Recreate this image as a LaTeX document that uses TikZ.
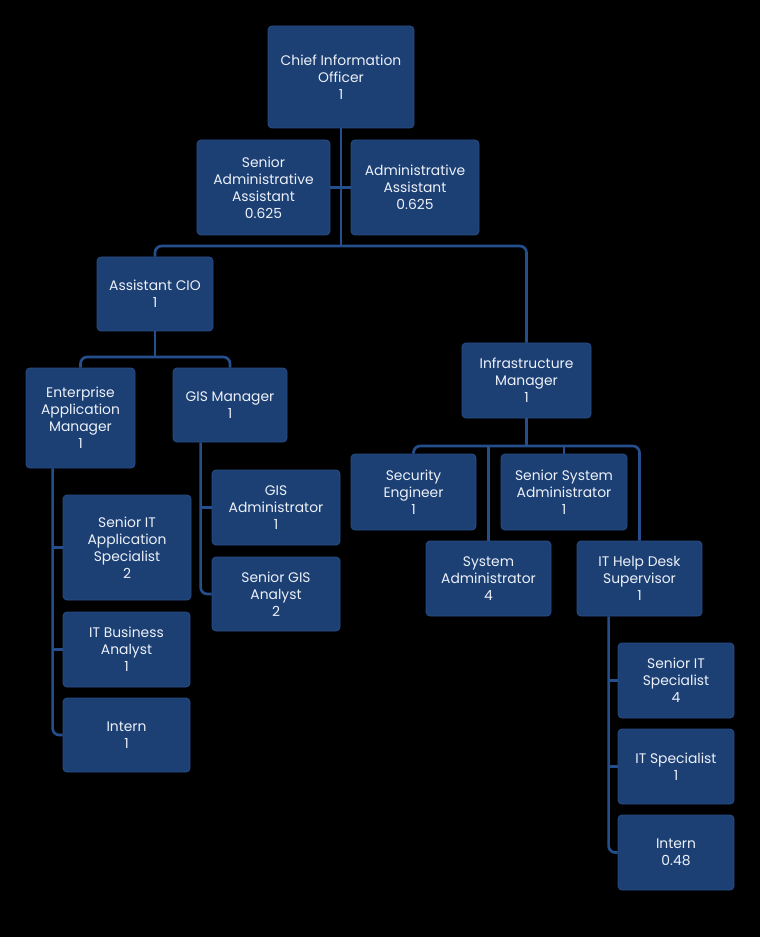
\documentclass[tikz,border=0pt]{standalone}
\usepackage{fontspec}
\setmainfont{Poppins}
\definecolor{boxfill}{RGB}{28,63,116}
\definecolor{boxedge}{RGB}{40,78,135}
\definecolor{linecol}{RGB}{36,78,140}
\definecolor{txt}{RGB}{236,241,248}
\pgfdeclarelayer{bgzero}
\pgfdeclarelayer{bgone}
\pgfsetlayers{bgzero,bgone,main}
\begin{document}
\begin{tikzpicture}[x=0.75pt,y=-0.75pt,
  box/.style 2 args={draw=boxedge, line width=0.6pt, fill=boxfill, rounded corners=3pt,
    minimum width=#1*0.75pt, minimum height=#2*0.75pt, inner sep=1pt,
    align=center, text=txt, font=\fontsize{10.4}{12.8}\selectfont},
  conn/.style={draw=linecol, line width=2pt, rounded corners=5pt}]
\begin{pgfonlayer}{bgzero}
\fill[black] (0,0) rectangle (760,937);
\end{pgfonlayer}
\useasboundingbox (0,0) rectangle (760,937);
\coordinate (jA) at (341,246);
\coordinate (jB) at (155,357);
\coordinate (jC) at (526.5,446);
% nodes
\node[box={146}{102}] (cio) at (341,77) {Chief Information\\Officer\\1};
\node[box={133}{95}] (saa) at (263.5,187.5) {Senior\\Administrative\\Assistant\\0.625};
\node[box={128}{95}] (aa) at (415,187.5) {Administrative\\Assistant\\0.625};
\node[box={116}{74}] (acio) at (155,294) {Assistant CIO\\1};
\node[box={109}{100}] (eam) at (80.5,418) {Enterprise\\Application\\Manager\\1};
\node[box={114}{74}] (gism) at (230,405) {GIS Manager\\1};
\node[box={128}{75}] (gisa) at (276,507.5) {GIS\\Administrator\\1};
\node[box={128}{74}] (sgis) at (276,594) {Senior GIS\\Analyst\\2};
\node[box={128}{105}] (sitas) at (127,547.5) {Senior IT\\Application\\Specialist\\2};
\node[box={127}{75}] (itba) at (126.5,649.5) {IT Business\\Analyst\\1};
\node[box={127}{74}] (int1) at (126.5,735) {Intern\\1};
\node[box={129}{75}] (infra) at (526.5,380.5) {Infrastructure\\Manager\\1};
\node[box={125}{76}] (sec) at (413.5,492) {Security\\Engineer\\1};
\node[box={126}{76}] (ssa) at (564,492) {Senior System\\Administrator\\1};
\node[box={125}{75}] (sysa) at (488.5,578.5) {System\\Administrator\\4};
\node[box={125}{75}] (ithd) at (639.5,578.5) {IT Help Desk\\Supervisor\\1};
\node[box={116}{75}] (sits) at (676,680.5) {Senior IT\\Specialist\\4};
\node[box={116}{75}] (its) at (676,766.5) {IT Specialist\\1};
\node[box={116}{75}] (int2) at (676,852.5) {Intern\\0.48};
% trunk coordinates
\coordinate (eamT) at ([xshift=20.25pt]eam.south west);
\coordinate (gisT) at ([xshift=21pt]gism.south west);
\coordinate (hdT) at ([xshift=24pt]ithd.south west);
\begin{pgfonlayer}{bgone}
\draw[conn] (cio.south) -- (jA);
\draw[conn] (acio.north) |- (jA) -| (infra.north);
\draw[conn] (saa.east) -- (aa.west);
\draw[conn] (acio.south) -- (jB);
\draw[conn] (eam.north) |- (jB) -| (gism.north);
\draw[conn] (eamT) |- (int1.west);
\draw[conn] (sitas.west) -- (sitas.west -| eamT);
\draw[conn] (itba.west) -- (itba.west -| eamT);
\draw[conn] (gisT) |- (sgis.west);
\draw[conn] (gisa.west) -- (gisa.west -| gisT);
\draw[conn] (infra.south) -- (jC);
\draw[conn] (sec.north) |- (jC) -| (ithd.north);
\draw[conn] (sysa.north) -- (sysa.north |- jC);
\draw[conn] (ssa.north) -- (ssa.north |- jC);
\draw[conn] (hdT) |- (int2.west);
\draw[conn] (sits.west) -- (sits.west -| hdT);
\draw[conn] (its.west) -- (its.west -| hdT);
\end{pgfonlayer}
\end{tikzpicture}
\end{document}
